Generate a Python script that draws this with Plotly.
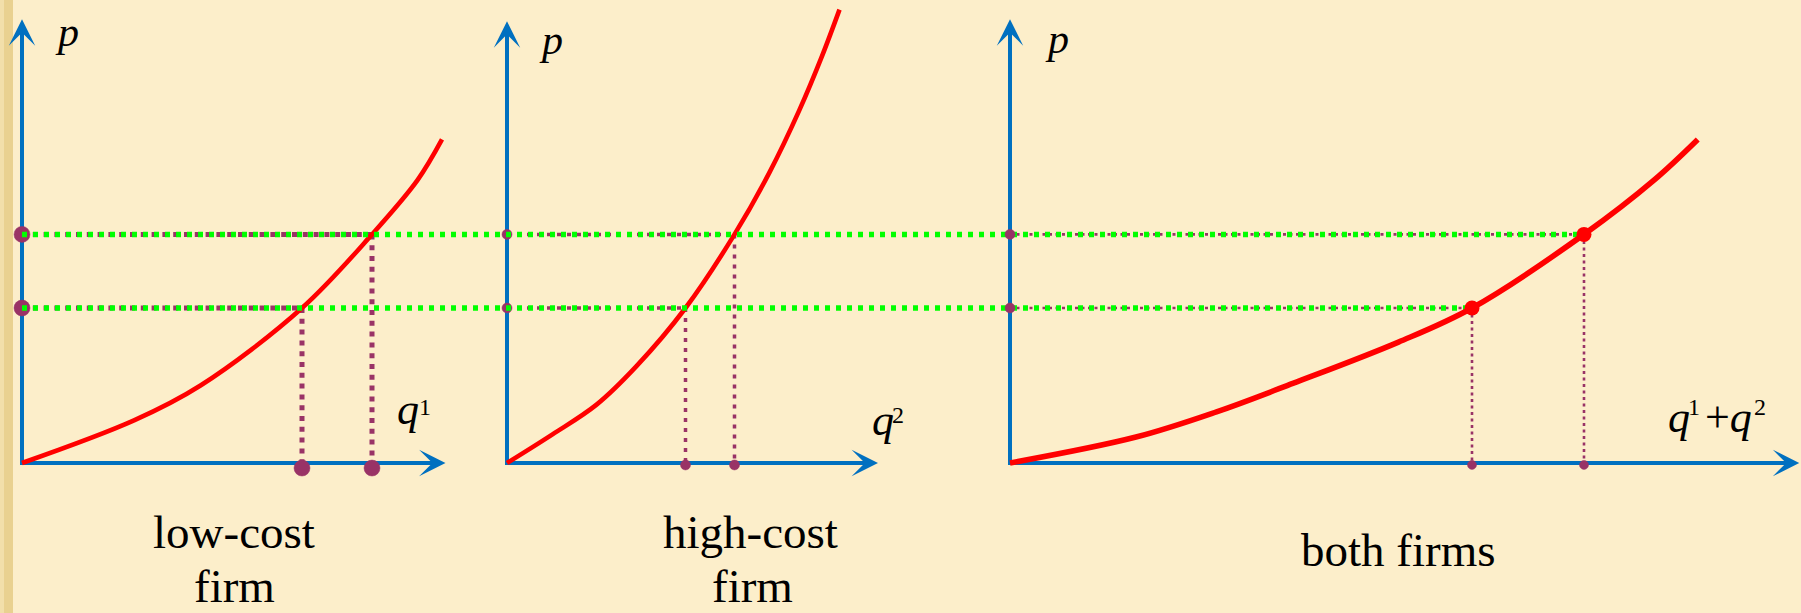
import plotly.graph_objects as go

W, H = 1801, 613

# ---------------- data ----------------
price_levels = [4.0, 5.9]          # the two market prices (lower, higher)

# supply curve of the low-cost firm (quantity q1, price p)
q1_curve = [0, 3.2, 5.1, 8.0, 10.0, 11.3, 12.0]
p1_curve = [0, 1.1, 2.0, 4.0, 5.9, 7.3, 8.35]

# supply curve of the high-cost firm (quantity q2, price p)
q2_curve = [0, 1.3, 2.55, 3.7, 5.1, 6.5, 7.5, 8.35, 9.0, 9.5]
p2_curve = [0, 0.74, 1.5, 2.5, 4.0, 5.9, 7.5, 9.1, 10.5, 11.7]

# combined supply of both firms (q1 + q2, price p)
qs_curve = [0, 3.6, 5.9, 8.1, 11.1, 13.2, 16.4, 18.4, 19.65]
ps_curve = [0, 0.67, 1.32, 2.06, 3.12, 4.0, 5.9, 7.3, 8.35]

# quantities supplied at the two prices
q1_at_p = [8.0, 10.0]
q2_at_p = [5.1, 6.5]
qs_at_p = [13.2, 16.4]

# length of the drawn axes (arrow tips) in each panel
axis_q_len = [12.1, 10.6, 22.55]
axis_p_len = [11.45, 11.4, 11.45]

panel_titles = [["low-cost", "firm"], ["high-cost", "firm"], ["both firms"]]

# ---------------- styling / layout constants ----------------
BG = "#FCEECA"
BLUE = "#0070C0"
RED = "#FF0000"
PURPLE = "#993366"
GREEN = "#00FF00"
SERIF = "Liberation Serif"

ORIGIN_PX = [22, 507, 1010]   # pixel x of each panel's origin
ORIGIN_PY = 463               # pixel y of the origins
PX_PER_Q = 35.0
PX_PER_P = 38.75

XREFS = ["x", "x2", "x3"]


def paper_x(px):
    return px / W


def paper_y(py):
    return 1 - py / H


fig = go.Figure()

# axis shafts
for i in range(3):
    fig.add_trace(go.Scatter(
        x=[0, 0, axis_q_len[i] - 0.3], y=[axis_p_len[i] - 0.3, 0, 0],
        xaxis=XREFS[i], yaxis="y", mode="lines",
        line=dict(color=BLUE, width=4), hoverinfo="skip"))

# purple dotted guide lines
purple_styles = [dict(width=5, dash="5px,5.8px"),
                 dict(width=3.5, dash="4px,6px"),
                 dict(width=2.6, dash="3px,3.5px")]
q_at_p = [q1_at_p, q2_at_p, qs_at_p]
for i in range(3):
    xs, ys = [], []
    for k, p in enumerate(price_levels):
        q = q_at_p[i][k]
        xs += [0, q, None, q, q, None]
        ys += [p, p, None, p, 0, None]
    fig.add_trace(go.Scatter(
        x=xs, y=ys, xaxis=XREFS[i], yaxis="y", mode="lines",
        line=dict(color=PURPLE, **purple_styles[i]), hoverinfo="skip"))

# green dotted price lines running across all panels (drawn on panel-3 axis)
g_start = (ORIGIN_PX[0] - ORIGIN_PX[2]) / PX_PER_Q
gx, gy = [], []
for k, p in enumerate(price_levels):
    gx += [g_start, qs_at_p[k], None]
    gy += [p, p, None]
fig.add_trace(go.Scatter(
    x=gx, y=gy, xaxis="x3", yaxis="y", mode="lines",
    line=dict(color=GREEN, width=5.5, dash="5px,6px"), hoverinfo="skip"))

# supply curves
curves = [(q1_curve, p1_curve, 4.6), (q2_curve, p2_curve, 4.6),
          (qs_curve, ps_curve, 5.6)]
for i, (qc, pc, w) in enumerate(curves):
    fig.add_trace(go.Scatter(
        x=qc, y=pc, xaxis=XREFS[i], yaxis="y", mode="lines",
        line=dict(color=RED, width=w, shape="spline", smoothing=1.0),
        hoverinfo="skip"))

# dots
bottom_offset = [-0.13, -0.05, -0.05]
dot_sizes = [[16, 16, 16, 16], [10, 10, 10, 10], [10, 10, 9, 9]]
for i in range(3):
    fig.add_trace(go.Scatter(
        x=[0, 0] + list(q_at_p[i]),
        y=list(price_levels) + [bottom_offset[i]] * 2,
        xaxis=XREFS[i], yaxis="y", mode="markers",
        marker=dict(color=PURPLE, size=dot_sizes[i], opacity=1,
                    line=dict(color=PURPLE, width=0.5)),
        hoverinfo="skip"))
fig.add_trace(go.Scatter(
    x=qs_at_p, y=price_levels, xaxis="x3", yaxis="y", mode="markers",
    marker=dict(color=RED, size=15, opacity=1), hoverinfo="skip"))

annotations = []
# arrow heads
for i in range(3):
    annotations.append(dict(x=0, y=axis_p_len[i], ax=0, ay=axis_p_len[i] - 1,
                            xref=XREFS[i], yref="y", axref=XREFS[i], ayref="y",
                            text="", showarrow=True, arrowhead=3, arrowsize=1.1,
                            arrowwidth=4, arrowcolor=BLUE, standoff=0))
    annotations.append(dict(x=axis_q_len[i], y=0, ax=axis_q_len[i] - 1, ay=0,
                            xref=XREFS[i], yref="y", axref=XREFS[i], ayref="y",
                            text="", showarrow=True, arrowhead=3, arrowsize=1.1,
                            arrowwidth=4, arrowcolor=BLUE, standoff=0))


def label(text, cx, cy, size, xanchor="center"):
    annotations.append(dict(x=paper_x(cx), y=paper_y(cy), xref="paper", yref="paper",
                            text=text, showarrow=False, xanchor=xanchor,
                            yanchor="middle", borderpad=0,
                            font=dict(family=SERIF, size=size, color="black")))


# p labels
label("<i>p</i>", 67, 32, 42)
label("<i>p</i>", 551, 40, 42)
label("<i>p</i>", 1057, 39, 42)

# quantity labels
label("<i>q</i>", 396, 410, 44, "left")
label("1", 425, 407, 24)
label("<i>q</i>", 871, 420, 44, "left")
label("2", 898, 415, 24)
label("<i>q</i>", 1667, 417, 44, "left")
label("1", 1694, 407, 24)
label("+<i>q</i>", 1704, 417, 44, "left")
label("2", 1760, 407, 24)

# panel titles
label(panel_titles[0][0], 234, 532, 47)
label(panel_titles[0][1], 234, 586, 47)
label(panel_titles[1][0], 750, 532, 47)
label(panel_titles[1][1], 752, 586, 47)
label(panel_titles[2][0], 1398, 550, 47)

shapes = [
    dict(type="rect", xref="paper", yref="paper", x0=0, x1=13 / W, y0=0, y1=1,
         fillcolor="#E9D190", line=dict(width=0), layer="below"),
    dict(type="rect", xref="paper", yref="paper", x0=0, x1=4 / W, y0=0, y1=1,
         fillcolor="#F2DFAA", line=dict(width=0), layer="below"),
]

layout = dict(
    width=W, height=H,
    margin=dict(l=0, r=0, t=0, b=0),
    paper_bgcolor=BG, plot_bgcolor=BG,
    showlegend=False,
    annotations=annotations,
    shapes=shapes,
    yaxis=dict(range=[-(H - ORIGIN_PY) / PX_PER_P, ORIGIN_PY / PX_PER_P],
               domain=[0, 1], visible=False, fixedrange=True),
)
for i in range(3):
    key = "xaxis" if i == 0 else f"xaxis{i + 1}"
    ax = dict(range=[-ORIGIN_PX[i] / PX_PER_Q, (W - ORIGIN_PX[i]) / PX_PER_Q],
              domain=[0, 1], visible=False, fixedrange=True, anchor="y")
    if i > 0:
        ax["overlaying"] = "x"
    layout[key] = ax

fig.update_layout(**layout)
fig.write_html("out.html", config={"displayModeBar": False},
               post_script="document.body.style.margin='0';"
                           "document.body.style.overflow='hidden';"
                           "document.body.style.background='" + BG + "';")
